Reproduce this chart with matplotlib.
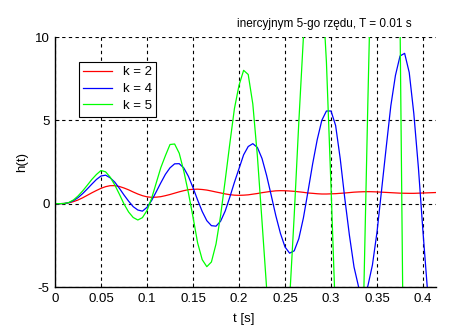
import matplotlib
matplotlib.use("Agg")
import matplotlib.pyplot as plt

# time samples [s]
t = [0.000, 0.005, 0.010, 0.015, 0.020, 0.025, 0.030, 0.035, 0.040, 0.045,
     0.050, 0.055, 0.060, 0.065, 0.070, 0.075, 0.080, 0.085, 0.090, 0.095,
     0.100, 0.105, 0.110, 0.115, 0.120, 0.125, 0.130, 0.135, 0.140, 0.145,
     0.150, 0.155, 0.160, 0.165, 0.170, 0.175, 0.180, 0.185, 0.190, 0.195,
     0.200, 0.205, 0.210, 0.215, 0.220, 0.225, 0.230, 0.235, 0.240, 0.245,
     0.250, 0.255, 0.260, 0.265, 0.270, 0.275, 0.280, 0.285, 0.290, 0.295,
     0.300, 0.305, 0.310, 0.315, 0.320, 0.325, 0.330, 0.335, 0.340, 0.345,
     0.350, 0.355, 0.360, 0.365, 0.370, 0.375, 0.380, 0.385, 0.390, 0.395,
     0.400, 0.405, 0.410, 0.415]

# k = 2
h_k2 = [0, 0, 0.01, 0.05, 0.12, 0.22, 0.35, 0.50, 0.65, 0.79,
        0.92, 1.02, 1.08, 1.08, 1.03, 0.94, 0.83, 0.70, 0.58, 0.48,
        0.41, 0.38, 0.39, 0.42, 0.48, 0.55, 0.63, 0.71, 0.78, 0.84,
        0.86, 0.87, 0.85, 0.815, 0.76, 0.70, 0.645, 0.585, 0.54, 0.51,
        0.50, 0.51, 0.53, 0.57, 0.61, 0.66, 0.70, 0.74, 0.77, 0.78,
        0.775, 0.76, 0.74, 0.71, 0.68, 0.64, 0.62, 0.595, 0.58, 0.58,
        0.59, 0.60, 0.62, 0.64, 0.665, 0.69, 0.705, 0.715, 0.72, 0.715,
        0.705, 0.69, 0.675, 0.66, 0.645, 0.63, 0.625, 0.62, 0.62, 0.63,
        0.64, 0.65, 0.66, 0.67]

# k = 4
h_k4 = [0, 0, 0.01, 0.06, 0.18, 0.36, 0.60, 0.88, 1.17, 1.45,
        1.66, 1.71, 1.55, 1.29, 0.92, 0.52, 0.15, -0.18, -0.38, -0.45,
        -0.22, 0.19, 0.71, 1.25, 1.76, 2.15, 2.39, 2.40, 2.14, 1.64,
        0.96, 0.22, -0.47, -1.02, -1.32, -1.35, -1.05, -0.44, 0.39, 1.28,
        2.10, 2.93, 3.43, 3.60, 3.37, 2.71, 1.69, 0.50, -0.72, -1.78,
        -2.60, -2.97, -2.83, -2.10, -0.85, 0.74, 2.38, 3.84, 5.00, 5.56,
        5.56, 4.69, 2.70, 0.30, -1.90, -3.80, -5.00, -5.50, -4.95, -3.68,
        -1.70, 0.84, 3.39, 5.87, 7.69, 8.86, 9.02, 7.87, 5.40, 2.14,
        -1.72, -5.30, -8.20, -9.90]

# k = 5
h_k5 = [0, 0, 0.01, 0.07, 0.22, 0.46, 0.76, 1.10, 1.45, 1.75,
        1.99, 1.91, 1.59, 1.12, 0.565, -0.02, -0.50, -0.83, -0.98, -0.84,
        -0.41, 0.32, 1.24, 2.16, 2.88, 3.55, 3.58, 3.03, 1.95, 0.65,
        -0.80, -2.35, -3.36, -3.78, -3.50, -2.42, -0.71, 1.41, 3.60, 5.70,
        7.10, 8.00, 7.75, 5.98, 2.83, -1.07, -5.07, -8.35, -10.37, -11.0,
        -9.50, -5.75, -0.70, 4.90, 10.0, 13.8, 15.9, 16.5, 13.5, 8.5,
        1.0, -7.0, -14.5, -19.5, -21.0, -19.0, -14.0, -7.0, 6.0, 18.0,
        27.0, 32.0, 34.0, 30.0, 22.0, 11.0, -17.0, -35.0, -48.0, -56.0,
        -58.0, -54.0, -44.0, -30.0]

labels = ["k = 2", "k = 4", "k = 5"]
colors = ["#ff0000", "#0000ff", "#00ff00"]
x_ticks = [0, 0.05, 0.1, 0.15, 0.2, 0.25, 0.3, 0.35, 0.4]
x_ticklabels = ["0", "0.05", "0.1", "0.15", "0.2", "0.25", "0.3", "0.35", "0.4"]
y_ticks = [-5, 0, 5, 10]

plt.rcParams['font.family'] = ['Liberation Sans', 'DejaVu Sans']
plt.rcParams['axes.unicode_minus'] = False

fig = plt.figure(figsize=(4.61, 3.30), dpi=100)
ax = fig.add_axes([55 / 461, 43 / 330, 381 / 461, 250 / 330])

for h, lab, c in zip([h_k2, h_k4, h_k5], labels, colors):
    ax.plot(t, h, color=c, lw=0.9, label=lab)

ax.set_xlim(0, 0.4141)
ax.set_ylim(-5, 10)
ax.set_xticks(x_ticks)
ax.set_xticklabels(x_ticklabels)
ax.set_yticks(y_ticks)
ax.tick_params(direction='in', length=3, width=0.6, labelsize=9.5, pad=4)

ax.grid(True, color='black', linestyle=(0, (3, 3)), linewidth=0.8)
for side in ['top', 'right']:
    ax.spines[side].set_visible(False)
for side in ['left', 'bottom']:
    ax.spines[side].set_linewidth(1.0)

ax.set_xlabel('t [s]', fontsize=9.5)
ax.set_ylabel('h(t)', fontsize=9.5)
ax.xaxis.set_label_coords((244 - 55) / 381, -0.105)
ax.yaxis.set_label_coords(-0.07, 0.5)

leg = ax.legend(loc='upper left', bbox_to_anchor=(78.5 / 461, 1 - 61.5 / 330),
                bbox_transform=fig.transFigure, fontsize=9.5, fancybox=False,
                framealpha=1, edgecolor='black', handlelength=2.2,
                handletextpad=0.8, labelspacing=0.35, borderpad=0.35,
                borderaxespad=0)
leg.get_frame().set_linewidth(0.8)

fig.text(237 / 461, 1 - 23.5 / 330, 'inercyjnym 5-go rzędu, T = 0.01 s',
         fontsize=8.5, ha='left', va='center')

fig.savefig('out.png', dpi=100)
